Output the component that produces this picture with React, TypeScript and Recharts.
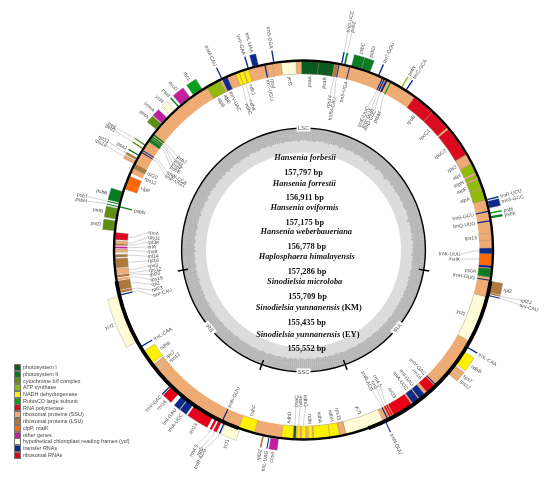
import React from 'react';
import { PieChart, Pie, Cell, Legend, Sector } from 'recharts';

const categoryNames = ['photosystem I', 'photosystem II', 'cytochrome b/f complex', 'ATP synthase', 'NADH dehydrogenase', 'RubisCO large subunit', 'RNA polymerase', 'ribosomal proteins (SSU)', 'ribosomal proteins (LSU)', 'clpP, matK', 'other genes', 'hypothetical chloroplast reading frames (ycf)', 'transfer RNAs', 'ribosomal RNAs'];
const categoryColors: Record<string, string> = { PSI: '#0b5a1e', PSII: '#0a7d22', CYT: '#5f8e12', ATP: '#8fbc08', NADH: '#fff000', RBC: '#0aa01e', RNA: '#dc0a1e', SSU: '#eeac74', LSU: '#ae7a3c', CLP: '#ff6a08', OTH: '#c21f9e', YCF: '#fffbd6', TRN: '#0a2a8c', RRN: '#e8001a' };
const categoryKeys = ['PSI', 'PSII', 'CYT', 'ATP', 'NADH', 'RBC', 'RNA', 'SSU', 'LSU', 'CLP', 'OTH', 'YCF', 'TRN', 'RRN'];

// gene: [name, map start, map end, category], map runs clockwise from the top of the circle
type Gene = [string, number, number, string];

const innerGenes: Gene[] = [
  ['rps12', -130.5, -129, 'SSU'], ['rps7', -128.8, -127.3, 'SSU'], ['ndhB', -126.8, -122.3, 'NADH'], ['trnL-CAA', -120.95, -120.55, 'TRN'],
  ['trnI-CAU', -103.95, -103.55, 'TRN'], ['rpl23', -103.2, -102.5, 'LSU'], ['rpl2', -102.3, -99.5, 'LSU'], ['rps19', -99.3, -98.6, 'SSU'],
  ['rpl22', -98.4, -97.7, 'LSU'], ['rps12#2', -97.65, -97.4, 'SSU'], ['rps3', -97.35, -95.7, 'SSU'], ['rpl16', -95.45, -92.6, 'LSU'],
  ['rpl14', -92.2, -91.35, 'LSU'], ['rps8', -90.7, -89.7, 'SSU'], ['infA', -89.5, -88.96, 'OTH'], ['rpl36', -88.65, -88.1, 'LSU'],
  ['rps11', -88.1, -87.2, 'SSU'], ['rpoA', -86.85, -84.7, 'RNA'], ['psbN', -77, -76.6, 'PSII'], ['clpP', -71.2, -67, 'CLP'],
  ['rps12#3', -66, -65.5, 'SSU'], ['rpl20', -64.4, -63, 'LSU'], ['trnP-UGG', -59.1, -58.8, 'TRN'], ['trnW-CCA', -58.4, -58.1, 'TRN'],
  ['psbE', -55, -54, 'PSII'], ['psbF', -53.9, -53.5, 'PSII'], ['psbL', -53.4, -53, 'PSII'], ['psbJ', -52.7, -52.2, 'PSII'],
  ['atpB', -30.7, -27.4, 'ATP'], ['atpE', -27.3, -26.2, 'ATP'], ['trnV-UAC', -25.5, -23.8, 'TRN'], ['ndhC', -21, -20, 'NADH'],
  ['ndhK', -19.9, -18.6, 'NADH'], ['ndhJ', -18.3, -17, 'NADH'], ['trnT-UGU', -12, -11.6, 'TRN'], ['rps4', -11.3, -9.4, 'SSU'],
  ['ycf3', -6.8, -2.3, 'YCF'], ['psaA', -0.6, 4.6, 'PSI'], ['psaB', 4.6, 9.4, 'PSI'], ['rps14', 9.5, 10.6, 'LSU'], ['trnfM-CAU', 10.7, 11, 'TRN'],
  ['trnS-UGA', 14, 14.3, 'TRN'], ['trnE-UUC', 24.5, 24.85, 'TRN'], ['trnY-GUA', 25.1, 25.5, 'TRN'], ['trnD-GUC', 25.8, 26.4, 'TRN'],
  ['psbM', 27.3, 27.7, 'RBC'], ['rpoB', 36, 43, 'RNA'], ['rpoC1', 43.1, 49.6, 'RNA'], ['rpoC2', 50.2, 59.6, 'RNA'], ['rps2', 59.8, 62.8, 'SSU'],
  ['atpI', 63, 65.8, 'ATP'], ['atpH', 66.5, 67.5, 'ATP'], ['atpF', 68, 70.8, 'ATP'], ['atpA', 71, 74.6, 'ATP'], ['trnS-GCU', 78, 78.4, 'TRN'],
  ['trnQ-UUG', 80.9, 81.3, 'TRN'], ['rps16', 84.8, 87, 'SSU'], ['trnK-UUU', 89.4, 91.2, 'TRN'], ['matK', 91.2, 94.8, 'CLP'], ['', 94.8, 95.5, 'TRN'],
  ['psbA', 95.7, 98.3, 'PSII'], ['trnH-GUG', 99.1, 99.4, 'TRN'], ['ycf2', 104.4, 118.8, 'YCF'], ['trnV-GAC', 135.4, 135.75, 'TRN'],
  ['rrn16', 136, 139, 'RRN'], ['trnI-GAU', 140, 142, 'TRN'], ['trnA-UGC', 142.3, 144.5, 'TRN'], ['rrn23', 145, 151.3, 'RRN'],
  ['rrn4.5', 151.6, 152, 'RRN'], ['rrn5', 152.3, 152.8, 'RRN'], ['trnR-ACG', 153.3, 153.7, 'TRN'], ['ycf1', 155, 167, 'YCF'],
  ['rps15', 167.1, 169, 'SSU'], ['ndhH', 169, 172, 'NADH'], ['ndhA', 172, 176.9, 'NADH'], ['ndhI', 177.2, 178.5, 'NADH'], ['ndhG', 179.3, 180.6, 'NADH'],
  ['ndhE', 181.1, 181.95, 'NADH'], ['psaC', 182.4, 183.2, 'PSI'], ['ndhD', 183.2, 186.7, 'NADH'], ['ndhF', 195, 200, 'NADH'], ['trnN-GUU', 205.2, 205.6, 'TRN'],
];

const outerGenes: Gene[] = [
  ['ycf2', -118.8, -104.2, 'YCF'], ['petD', -84.2, -81.2, 'CYT'], ['petB', -80.6, -77.4, 'CYT'], ['psbH', -77, -76.7, 'PSII'], ['psbT', -76.2, -75.9, 'PSII'],
  ['psbB', -75.6, -72.1, 'PSII'], ['rps18', -63, -62, 'SSU'], ['rpl33', -61.7, -61, 'LSU'], ['psaJ', -60.3, -59.9, 'PSII'], ['petG', -57.9, -57.5, 'CYT'],
  ['petL', -56.7, -56.3, 'CYT'], ['petA', -50.7, -48.4, 'CYT'], ['cemA', -48.2, -45.9, 'OTH'], ['ycf4', -44.7, -42.5, 'YCF'], ['psaI', -41.3, -40.9, 'PSII'],
  ['accD', -40.2, -36.6, 'OTH'], ['rbcL', -35.4, -32.2, 'RBC'], ['trnM-CAU', -25.7, -25.3, 'TRN'], ['trnF-GAA', -17.1, -16.7, 'TRN'], ['trnL-UAA', -15.5, -13.7, 'TRN'],
  ['trnS-GGA', -9.2, -8.8, 'TRN'], ['trnG-UCC', 11.4, 11.8, 'TRN'], ['psbZ', 12.3, 12.8, 'PSII'], ['psbC', 14.6, 17.7, 'PSII'], ['psbD', 17.7, 20.5, 'PSII'],
  ['trnT-GGU', 23.1, 23.5, 'TRN'], ['petN', 30.9, 31.3, 'ATP'], ['trnC-GCA', 32.5, 32.9, 'TRN'], ['trnR-UCU', 74.5, 74.9, 'TRN'], ['trnG-GCC', 75.2, 77.3, 'TRN'],
  ['psbI', 78.6, 79, 'RBC'], ['psbK', 79.7, 80.4, 'PSII'], ['rpl2', 99.5, 102.9, 'LSU'], ['rpl23', 103, 103.4, 'LSU'], ['trnI-CAU', 103.7, 104, 'TRN'],
  ['trnL-CAA', 120.5, 120.9, 'TRN'], ['ndhB', 122.3, 126.8, 'NADH'], ['rps7', 127.3, 128.8, 'SSU'], ['rps12', 129, 130.5, 'SSU'], ['trnN-GUU', 154.3, 154.6, 'TRN'],
  ['ccsA', 187.5, 189.9, 'OTH'], ['trnL-UAG', 190.3, 190.6, 'TRN'], ['rpl32', 192, 192.5, 'LSU'], ['ycf1', 199.5, 204.2, 'YCF'], ['trnR-ACG', 204.4, 204.8, 'TRN'],
  ['rrn5', 205.5, 206.5, 'RRN'], ['rrn4.5', 207, 207.7, 'RRN'], ['rrn23', 208.5, 215, 'RRN'], ['trnA-UGC', 215.5, 217.7, 'TRN'], ['trnI-GAU', 217.9, 219.8, 'TRN'],
  ['rrn16', 221, 224, 'RRN'], ['trnV-GAC', 224.2, 224.6, 'TRN'],
];

// label placement away from the gene: [map angle, distance]
const innerSpots: Record<string, [number, number]> = {
  'trnI-CAU': [-106.8, 157], rpl23: [-104.8, 157], rpl2: [-102.8, 156], rps19: [-101, 156], rpl22: [-99.1, 156], 'rps12#2': [-97.5, 156], rps3: [-95.9, 156],
  rpl16: [-94, 156], rpl14: [-92.3, 156], rps8: [-90.6, 156], infA: [-88.8, 156], rpl36: [-87.1, 156], rps11: [-85.3, 156], rpoA: [-83.5, 156],
  'trnP-UGG': [-61.7, 157], 'trnW-CCA': [-60.3, 157], psbE: [-57.9, 157], psbF: [-56.5, 157], psbL: [-55, 157], psbJ: [-53.4, 157],
  ndhC: [-21.2, 157], ndhK: [-19.4, 159], rps14: [9.7, 157], 'trnfM-CAU': [11.4, 156], 'trnE-UUC': [24.1, 157], 'trnY-GUA': [25.7, 157], 'trnD-GUC': [27, 157], psbM: [29, 158],
  'trnK-UUU': [91.5, 157], matK: [93.4, 157], 'rrn4.5': [150.5, 157], rrn5: [152.2, 157], 'trnR-ACG': [154, 157], ndhG: [179.2, 157], ndhE: [181.2, 157], psaC: [182.8, 157],
};
const outerSpots: Record<string, [number, number]> = {
  psbT: [-76.1, 222], psbH: [-77.3, 222], petG: [-57.7, 223], petL: [-56.9, 223], rpl33: [-61, 223], rps18: [-62.1, 223], 'trnG-UCC': [11.5, 222], psbZ: [12.5, 223],
  rpl23: [103, 223], 'trnI-CAU': [104.3, 223], 'rrn4.5': [208.7, 222], rrn5: [207.3, 222], 'trnR-ACG': [206.4, 222],
};

const baseBand: Gene[] = [['', -66, 229.5, 'SSU']];
const repeatBands: Gene[] = [['', -130.5, -99.5, 'IR'], ['', 99.5, 160, 'IR'], ['', 200, 229.5, 'IR']];
const regionNames = ['LSC', 'IRA', 'SSC', 'IRB'];
const regionSpans = [199, 60.5, 40, 60.5];
const boundaryTicks = [-99.5, 99.5, 160, 200];

const gcValues = [
  36, 37, 39, 36, 38, 41, 37, 36, 38, 35, 37, 39, 37, 40, 36, 38, 37, 35, 38, 43, 37, 36, 38, 39, 36, 37, 35, 38, 40, 37,
  36, 39, 37, 38, 42, 36, 37, 39, 38, 36, 37, 40, 38, 36, 35, 38, 37, 39, 44, 37, 38, 36, 37, 39, 36, 38, 37, 41, 36, 38,
  37, 36, 39, 38, 36, 37, 40, 38, 37, 35, 38, 37, 36, 39, 43, 37, 38, 36, 37, 38, 39, 36, 38, 37, 40, 37, 36, 38, 37, 39,
  36, 38, 42, 37, 38, 36, 39, 37, 38, 36, 37, 39, 38, 36, 41, 37, 38, 39, 36, 37, 38, 36, 40, 37, 38, 36, 39, 37, 38, 36,
  37, 38, 36, 39, 37, 38, 35, 37, 39, 38, 36, 37, 38, 36, 37, 39, 37, 36, 38, 37, 39, 36, 37, 38, 40, 37, 36, 38, 37, 39,
  38, 36, 37, 39, 38, 40, 37, 38, 36, 39, 38, 37, 41, 38, 37, 39, 38, 36, 40, 38, 37, 39, 42, 38, 36, 39, 37, 40, 38, 37,
  39, 41, 37, 38, 40, 37, 39, 38, 36, 40, 38, 37, 39, 38, 36, 38, 37, 39, 38, 36, 37, 39, 38, 37, 36, 38, 39, 37, 36, 38,
  37, 39, 36, 38, 37, 36, 38, 39, 37, 36, 38, 37, 39, 36, 38, 37, 36, 39, 38, 37, 36, 38, 37, 35, 38, 37, 36, 38, 37, 36,
  39, 37, 38, 36, 37, 39, 38, 40, 37, 39, 41, 38, 37, 40, 42, 38, 39, 37, 40, 38, 37, 41, 39, 38, 37, 40, 38, 39, 37, 42,
  38, 40, 37, 39, 41, 38, 37, 39, 40, 37, 38, 42, 39, 37, 40, 38, 39, 37, 41, 38, 36, 39, 37, 40, 38, 37, 39, 43, 38, 37,
  40, 38, 36, 39, 37, 41, 38, 37, 39, 36, 38, 40, 37, 39, 38, 36, 42, 38, 37, 39, 36, 38, 37, 40, 38, 36, 39, 37, 38, 41,
  37, 36, 38, 39, 37, 40, 38, 36, 37, 39, 38, 36, 41, 37, 38, 36, 39, 37, 38, 40, 36, 38, 37, 39, 36, 38, 37, 40, 36, 37,
];

const sampleNames = ['Hansenia forbesii', 'Hansenia forrestii', 'Hansenia oviformis', 'Hansenia weberbaueriana', 'Haplosphaera himalayensis', 'Sinodielsia microloba', 'Sinodielsia yunnanensis', 'Sinodielsia yunnanensis'];
const sampleTags = ['', '', '', '', '', '', ' (KM)', ' (EY)'];
const sampleLengths = ['157,797 bp', '156,911 bp', '157,175 bp', '156,778 bp', '157,286 bp', '155,709 bp', '155,435 bp', '155,552 bp'];
const nameRows = [157, 183, 207.5, 231.5, 256, 281, 307.5, 334];
const lengthRows = [172, 197.5, 222, 246.5, 271, 296, 322, 348.5];
const nameCenters = [305, 304.3, 304.5, 306.3, 306.7, 304.7, 308.7, 307.8];
const lengthCenters = [303.5, 304.8, 304.8, 306.8, 307, 307.5, 306.7, 306.7];

const W = 550, H = 477, CX = 303.5, CY = 250;
const MAP_ORIGIN = -130.5;
const START = 90 - MAP_ORIGIN, END = START - 360;

type Seg = { name: string; value: number; color: string; gap: boolean };
function ringOf(genes: Gene[]): Seg[] {
  const out: Seg[] = [];
  let pos = MAP_ORIGIN;
  for (const [name, a, b, c] of genes) {
    if (a > pos) out.push({ name: '', value: a - pos, color: 'none', gap: true });
    out.push({ name, value: b - a, color: c === 'IR' ? '#000' : categoryColors[c], gap: false });
    pos = b;
  }
  if (pos < MAP_ORIGIN + 360) out.push({ name: '', value: MAP_ORIGIN + 360 - pos, color: 'none', gap: true });
  return out;
}

const polar = (r: number, th: number) => {
  const t = (th * Math.PI) / 180;
  return [CX + r * Math.sin(t), CY - r * Math.cos(t)];
};

function geneLabel(p: any, ring: Seg[], spots: Record<string, [number, number]>, outer: boolean) {
  const seg = ring[p.index];
  if (!seg || seg.gap || !seg.name) return <g key={p.index} />;
  const th0 = 90 - p.midAngle;
  const th = ((th0 + 540) % 360) - 180;
  const spot = spots[seg.name];
  const edge = outer ? 202 : 176;
  const lr = spot ? spot[1] : outer ? 204 : 174;
  let la = spot ? spot[0] : th;
  la = ((la + 540) % 360) - 180;
  const [x, y] = polar(lr, la);
  const right = Math.sin((la * Math.PI) / 180) >= 0;
  const rot = right ? la - 90 : la + 90;
  const anchor = (outer ? right : !right) ? 'start' : 'end';
  const [x0, y0] = polar(edge, th);
  const [x1, y1] = polar(edge + (outer ? 4 : -5), th);
  return (
    <g key={p.index}>
      {spot ? <polyline points={`${x0},${y0} ${x1},${y1} ${x},${y}`} fill="none" stroke="#a8a8a8" strokeWidth={0.5} /> : null}
      <text x={x} y={y} dy="0.35em" transform={`rotate(${rot} ${x} ${y})`} textAnchor={anchor} fontFamily="Liberation Sans" fontSize={5} fill="#4c4c4c">{seg.name.split('#')[0]}</text>
    </g>
  );
}

function ring(data: Seg[], inner: number, outerR: number, edged: boolean, key: string, label?: any) {
  return (
    <Pie key={key} data={data} dataKey="value" cx={CX} cy={CY} innerRadius={inner} outerRadius={outerR} startAngle={START} endAngle={END} isAnimationActive={false} stroke="none" labelLine={false} label={label || false}>
      {data.map((d, i) => (
        <Cell key={i} fill={d.color} stroke={edged && !d.gap && d.value >= 0.8 ? '#8c8c8c' : 'none'} strokeWidth={0.35} />
      ))}
    </Pie>
  );
}

const gcRows = gcValues.map((gc, i) => ({ name: String(i), value: 360 / gcValues.length, gc }));
const GcShape = (p: any) => {
  const gc = p.gc ?? p.payload?.gc ?? 38;
  return <Sector {...p} innerRadius={122 - gc * 0.34} outerRadius={122} fill="#b6b6b6" stroke="none" />;
};

const regionRows = regionNames.map((name, i) => ({ name, value: regionSpans[i] }));
const regionLabel = (p: any) => {
  const th = 90 - p.midAngle;
  const [x, y] = polar(122, th);
  const t = ((th + 540) % 360) - 180;
  const rot = Math.abs(t) > 90 ? t + 180 * (t > 0 ? -1 : 1) : t;
  return (
    <g key={p.index} transform={`rotate(${rot} ${x} ${y})`}>
      <rect x={x - 7} y={y - 3.5} width={14} height={7} fill="#fff" />
      <text x={x} y={y} dy="0.35em" textAnchor="middle" fontFamily="Liberation Sans" fontSize={5.6} fill="#555">{regionNames[p.index]}</text>
    </g>
  );
};

const tickRows: Seg[] = ringOf(boundaryTicks.map((t): Gene => ['', t - 0.35, t + 0.35, 'IR']).sort((a, b) => a[1] - b[1]));

const LegendBox = () => (
  <div style={{ position: 'absolute', left: 14, top: 364, fontFamily: 'Liberation Sans', fontSize: 5.45, color: '#444', lineHeight: '6.77px', whiteSpace: 'nowrap' }}>
    {categoryNames.map((n, i) => (
      <div key={n} style={{ height: 6.77, display: 'flex', alignItems: 'center' }}>
        <span style={{ display: 'inline-block', width: 5, height: 5, background: categoryColors[categoryKeys[i]], border: '0.4px solid #777', marginRight: 2 }} />
        {n}
      </div>
    ))}
  </div>
);

const CenterText = () => (
  <svg width={W} height={H} style={{ position: 'absolute', left: 0, top: 0, pointerEvents: 'none' }}>
    <g fontFamily="Liberation Serif" fontWeight="bold" fontSize={8.4} fill="#111" textAnchor="middle">
      {sampleNames.map((n, i) => (
        <text key={i} x={nameCenters[i]} y={nameRows[i]} dy="0.35em">
          <tspan fontStyle="italic">{n}</tspan>
          {sampleTags[i]}
        </text>
      ))}
      {sampleLengths.map((n, i) => (
        <text key={i} x={lengthCenters[i]} y={lengthRows[i]} dy="0.35em">{n}</text>
      ))}
    </g>
  </svg>
);

export default function App() {
  const inner = ringOf(innerGenes);
  const outer = ringOf(outerGenes);
  return (
    <div style={{ position: 'absolute', left: 0, top: 0, width: W, height: H, filter: 'blur(0.35px)' }}>
      <PieChart width={W} height={H} margin={{ top: 0, right: 0, bottom: 0, left: 0 }}>
        {ring(ringOf(baseBand), 176, 188.5, false, 'base')}
        {ring(inner, 176, 188.5, true, 'inner', (p: any) => geneLabel(p, inner, innerSpots, false))}
        {ring(outer, 190.5, 202, true, 'outer', (p: any) => geneLabel(p, outer, outerSpots, true))}
        <Pie data={[{ name: 'map', value: 1 }]} dataKey="value" cx={CX} cy={CY} innerRadius={188.3} outerRadius={190.7} fill="#000" stroke="none" isAnimationActive={false} />
        {ring(ringOf(repeatBands), 187.8, 191.6, false, 'ir')}
        <Pie data={[{ name: 'gc', value: 1 }]} dataKey="value" cx={CX} cy={CY} innerRadius={97.5} outerRadius={122} fill="#dcdcdc" stroke="none" isAnimationActive={false} />
        <Pie data={gcRows} dataKey="value" cx={CX} cy={CY} innerRadius={108} outerRadius={122} startAngle={90} endAngle={-270} fill="#b6b6b6" stroke="none" isAnimationActive={false} shape={GcShape} />
        <Pie data={[{ name: 'circle', value: 1 }]} dataKey="value" cx={CX} cy={CY} innerRadius={121.2} outerRadius={122.6} fill="#000" stroke="none" isAnimationActive={false} />
        {ring(tickRows, 117, 127.5, false, 'ticks')}
        <Pie data={regionRows} dataKey="value" cx={CX} cy={CY} innerRadius={122} outerRadius={122} startAngle={90 + 99.5} endAngle={90 + 99.5 - 360} fill="none" stroke="none" isAnimationActive={false} labelLine={false} label={regionLabel} />
        <Legend content={<LegendBox />} wrapperStyle={{ position: 'absolute', left: 0, top: 0, width: 0, height: 0, bottom: 'auto' }} />
      </PieChart>
      <CenterText />
    </div>
  );
}
